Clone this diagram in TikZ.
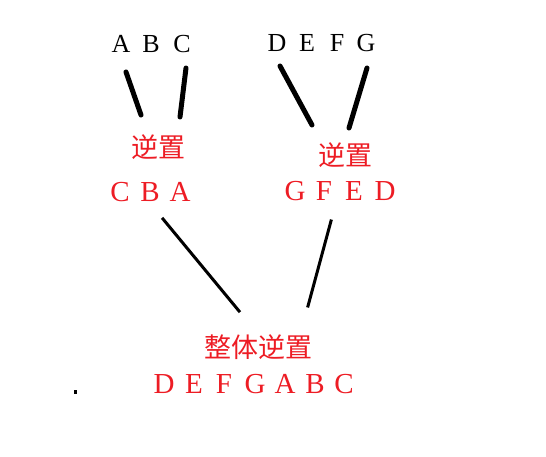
\documentclass[tikz,border=0pt]{standalone}
\usepackage{fontspec}
\setmainfont{Liberation Serif}
\newfontfamily\cjk{Noto Sans CJK SC}
\definecolor{pred}{RGB}{237,28,36}
\tikzset{
  blk/.style={font=\fontsize{26}{30}\selectfont, text=black, inner sep=0pt, anchor=base},
  rlet/.style={font=\fontsize{29}{33}\selectfont, text=pred, inner sep=0pt, anchor=base},
  rcjk/.style={font=\cjk\fontsize{27}{31}\selectfont, text=pred, inner sep=0pt, anchor=center},
  thickline/.style={line width=5pt, line cap=round},
  thinline/.style={line width=3pt, line cap=rect},
}
\begin{document}
\begin{tikzpicture}[x=1pt,y=-1pt]
\useasboundingbox (0,0) rectangle (546,457);
% top black letters
\node[blk] (tA) at (121,52.5) {A};
\node[blk] (tB) at (151,52.5) {B};
\node[blk] (tC) at (182,52.5) {C};
\node[blk] (tD) at (277,51.5) {D};
\node[blk] (tE) at (307,51.5) {E};
\node[blk] (tF) at (337,51.5) {F};
\node[blk] (tG) at (366,51.5) {G};
% red labels
\node[rcjk] (n1) at (158,147) {逆置};
\node[rcjk] (n2) at (345,155) {逆置};
\node[rlet] (lC) at (120,202) {C};
\node[rlet] (lB) at (150,202) {B};
\node[rlet] (lA) at (180,202) {A};
\node[rlet] (rG) at (295,200.5) {G};
\node[rlet] (rF) at (324,200.5) {F};
\node[rlet] (rE) at (354,200.5) {E};
\node[rlet] (rD) at (385,200.5) {D};
\node[rcjk] (n3) at (258,347) {整体逆置};
\node[rlet] (bD) at (164,393) {D};
\node[rlet] (bE) at (194,393) {E};
\node[rlet] (bF) at (224,393) {F};
\node[rlet] (bG) at (255,393) {G};
\node[rlet] (bA) at (285,393) {A};
\node[rlet] (bB) at (315,393) {B};
\node[rlet] (bC) at (344,393) {C};
% connector end points
\coordinate (p1a) at (126,72);  \coordinate (p1b) at (141,115);
\coordinate (p2a) at (186,68);  \coordinate (p2b) at (180,117);
\coordinate (p3a) at (280,66);  \coordinate (p3b) at (312,125);
\coordinate (p4a) at (367,68);  \coordinate (p4b) at (349,128);
\coordinate (p5a) at (163,219); \coordinate (p5b) at (239,311);
\coordinate (p6a) at (331,221); \coordinate (p6b) at (308,306);
\draw[thickline] (p1a) -- (p1b);
\draw[thickline] (p2a) -- (p2b);
\draw[thickline] (p3a) -- (p3b);
\draw[thickline] (p4a) -- (p4b);
\draw[thinline] (p5a) -- (p5b);
\draw[thinline] (p6a) -- (p6b);
% stray dot
\fill[black] (73.5,390) rectangle (76.5,393.5);
\end{tikzpicture}
\end{document}
